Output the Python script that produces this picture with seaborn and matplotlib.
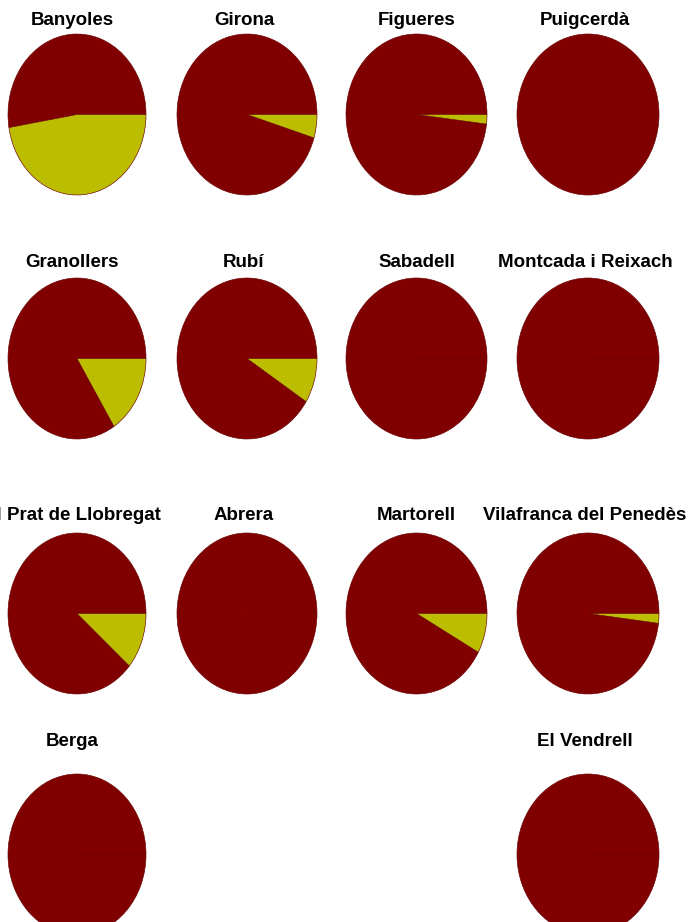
import matplotlib
matplotlib.use("Agg")
import matplotlib.pyplot as plt
import seaborn as sns

# ---- data ----
cities = ["Banyoles", "Girona", "Figueres", "Puigcerdà",
          "Granollers", "Rubí", "Sabadell", "Montcada i Reixach",
          "El Prat de Llobregat", "Abrera", "Martorell", "Vilafranca del Penedès",
          "Berga", "El Vendrell"]
red_share = [52.6, 95.3, 98.1, 100, 84.0, 91.0, 100, 100, 88.7, 100, 92.0, 98.05, 100, 100]
yellow_share = [47.4, 4.7, 1.9, 0, 16.0, 9.0, 0, 0, 11.3, 0, 8.0, 1.95, 0, 0]

# ---- layout (grid cell for each city) ----
grid_pos = [(0, 0), (0, 1), (0, 2), (0, 3),
            (1, 0), (1, 1), (1, 2), (1, 3),
            (2, 0), (2, 1), (2, 2), (2, 3),
            (3, 0), (3, 3)]
col_x0 = [8, 177, 346, 517]
col_w = [138, 140, 141, 142]
title_dx = [-5, -3, 0, -3]
row_y0 = [34, 278, 533, 774]
row_h = 161
title_base = [25, 267, 520, 746]

sns.set_theme(style="white")
plt.rcParams["font.family"] = ["Liberation Sans", "DejaVu Sans"]
colors = sns.color_palette(["#800000", "#bdbd00"])

W, H = 694, 922
fig = plt.figure(figsize=(W / 100, H / 100), dpi=100)
fig.patch.set_facecolor("white")

for name, r, y, (ri, ci) in zip(cities, red_share, yellow_share, grid_pos):
    x0, w = col_x0[ci], col_w[ci]
    y0 = row_y0[ri]
    ax = fig.add_axes([x0 / W, 1 - (y0 + row_h) / H, w / W, row_h / H])
    ax.pie([r, y], colors=colors, startangle=0, counterclock=True,
           wedgeprops=dict(edgecolor="#6a0000", linewidth=0.45))
    ax.set_aspect("auto")
    ax.set_xlim(-1.0, 1.0)
    ax.set_ylim(-1.0, 1.0)
    ax.axis("off")
    fig.text((x0 + w / 2 + title_dx[ci]) / W, 1 - title_base[ri] / H, name,
             ha="center", va="baseline", fontsize=13.5, fontweight="bold",
             color="#000000")

fig.savefig("out.png", dpi=100, facecolor="white")
